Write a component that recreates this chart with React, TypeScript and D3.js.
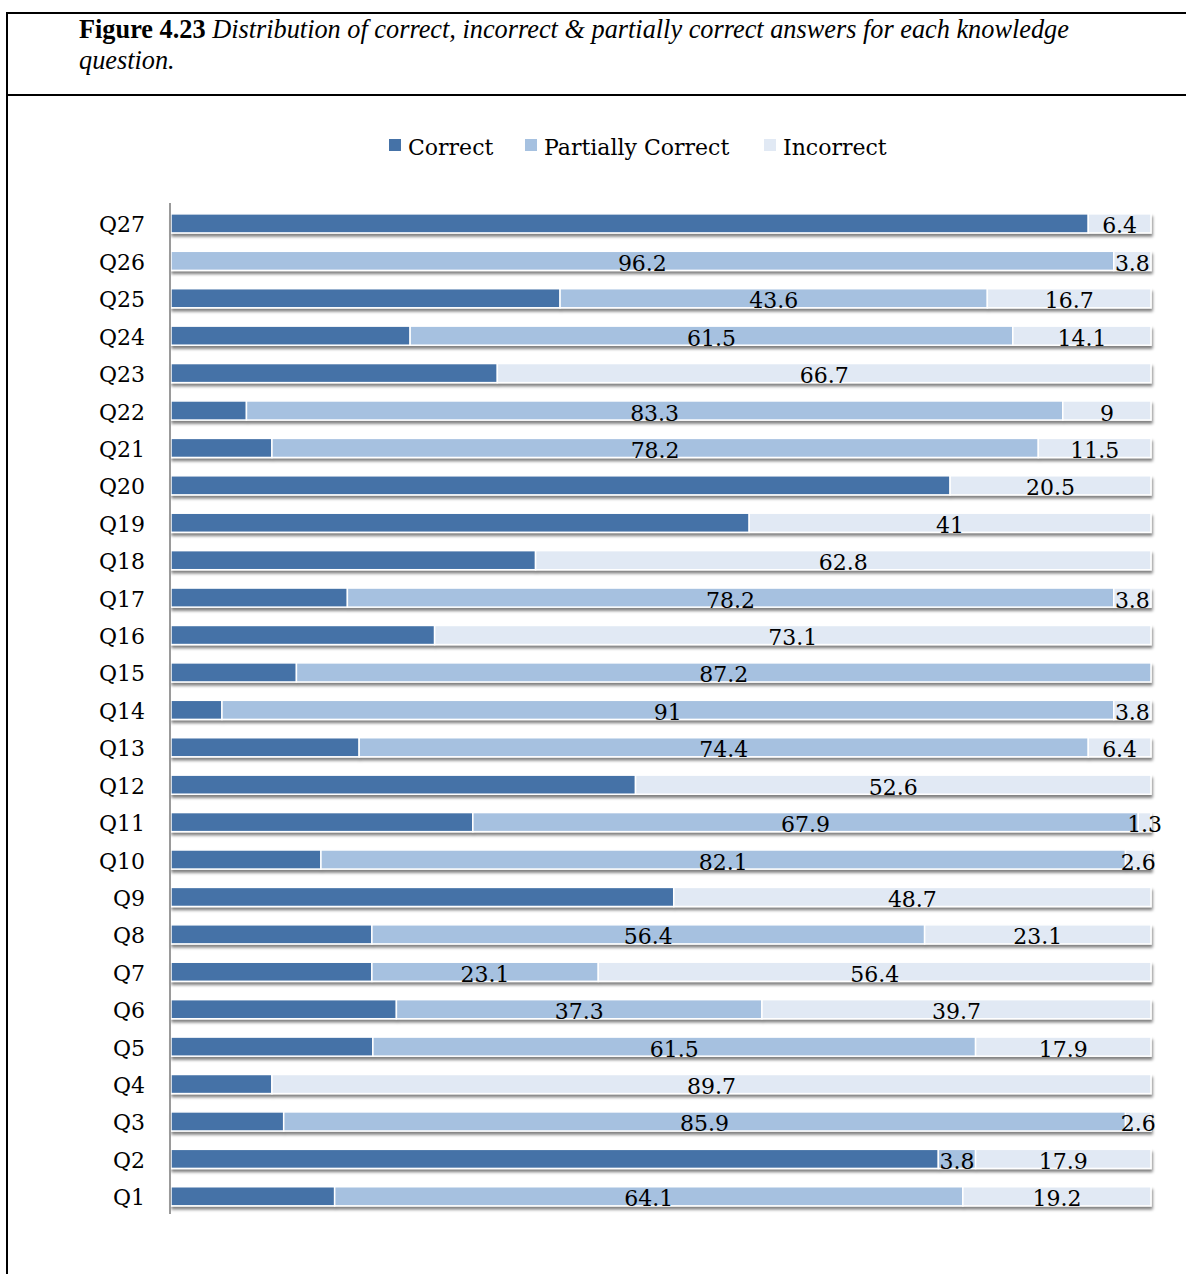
import React from "react";
import * as d3 from "d3";

// Knowledge questions, top to bottom as drawn
const questions = [
  "Q27", "Q26", "Q25", "Q24", "Q23", "Q22", "Q21", "Q20", "Q19", "Q18",
  "Q17", "Q16", "Q15", "Q14", "Q13", "Q12", "Q11", "Q10", "Q9", "Q8",
  "Q7", "Q6", "Q5", "Q4", "Q3", "Q2", "Q1",
];
// Percentage of partially correct answers per question
const partiallyCorrect = [
  0, 96.2, 43.6, 61.5, 0, 83.3, 78.2, 0, 0, 0,
  78.2, 0, 87.2, 91, 74.4, 0, 67.9, 82.1, 0, 56.4,
  23.1, 37.3, 61.5, 0, 85.9, 3.8, 64.1,
];
// Percentage of incorrect answers per question
const incorrect = [
  6.4, 3.8, 16.7, 14.1, 66.7, 9, 11.5, 20.5, 41, 62.8,
  3.8, 73.1, 0, 3.8, 6.4, 52.6, 1.3, 2.6, 48.7, 23.1,
  56.4, 39.7, 17.9, 89.7, 2.6, 17.9, 19.2,
];
// Percentage of correct answers makes up the remainder of each bar
const correct = questions.map((_, i) => +(100 - partiallyCorrect[i] - incorrect[i]).toFixed(1));

const seriesNames = ["Correct", "Partially Correct", "Incorrect"];
const seriesColors = ["#4572A7", "#A6C1E0", "#E1E9F4"];

const W = 1186;
const H = 1274;
const captionFont = "'Liberation Serif', 'Times New Roman', serif";
const chartFont = "'DejaVu Serif', serif";

export default function App() {
  const x = d3.scaleLinear().domain([0, 100]).range([171, 1151]);
  const y = d3.scaleBand<string>().domain(questions).range([204.7, 1215]).paddingInner(0.49).paddingOuter(0.245);

  const rows = questions.map((q, i) => ({ q, values: [correct[i], partiallyCorrect[i], incorrect[i]] }));
  const stack = d3.stack<any>().keys([0, 1, 2] as any).value((d: any, k: any) => d.values[k]);
  const series = stack(rows as any);

  const legendX = [389, 525, 764];

  return (
    <svg width={W} height={H} style={{ position: "absolute", left: 0, top: 0, background: "#fff" }}>
      <defs>
        <filter id="barShadow" x="-2%" y="-40%" width="104%" height="200%">
          <feGaussianBlur in="SourceAlpha" stdDeviation="1.6" />
          <feOffset dx="1" dy="3" result="blurred" />
          <feComponentTransfer>
            <feFuncA type="linear" slope="0.5" />
          </feComponentTransfer>
          <feMerge>
            <feMergeNode />
            <feMergeNode in="SourceGraphic" />
          </feMerge>
        </filter>
      </defs>

      {/* caption frame */}
      <line x1={7} x2={W} y1={13} y2={13} stroke="#000" strokeWidth={2} />
      <line x1={7} x2={W} y1={95} y2={95} stroke="#000" strokeWidth={2} />
      <line x1={7} x2={7} y1={12} y2={H} stroke="#000" strokeWidth={2} />
      <text x={79} y={38} fontFamily={captionFont} fontSize={26.3} fill="#000">
        <tspan fontWeight="bold">Figure 4.23</tspan>
        <tspan fontStyle="italic"> Distribution of correct, incorrect &amp; partially correct answers for each knowledge</tspan>
      </text>
      <text x={79} y={69} fontFamily={captionFont} fontSize={26.3} fontStyle="italic" fill="#000">question.</text>

      {/* legend */}
      {seriesNames.map((name, i) => (
        <g key={name}>
          <rect x={legendX[i]} y={139} width={12} height={12} fill={seriesColors[i]} />
          <text x={legendX[i] + 19} y={155} fontFamily={chartFont} fontSize={22} fill="#000">{name}</text>
        </g>
      ))}

      {/* bars */}
      {rows.map((r, i) => (
        <g key={r.q} filter="url(#barShadow)">
          {series.map((s, k) => {
            const seg = s[i];
            const w = x(seg[1]) - x(seg[0]);
            if (w <= 0) return null;
            return (
              <rect key={k} x={x(seg[0])} y={y(r.q)!} width={w} height={y.bandwidth()}
                fill={seriesColors[k]} stroke="#fff" strokeWidth={1.5} />
            );
          })}
        </g>
      ))}

      {/* value labels for partially correct and incorrect */}
      {rows.map((r, i) =>
        series.slice(1).map((s, k) => {
          const seg = s[i];
          const v = r.values[k + 1];
          if (!v) return null;
          return (
            <text key={r.q + k} x={(x(seg[0]) + x(seg[1])) / 2} y={y(r.q)! + y.bandwidth() / 2 + 10}
              textAnchor="middle" fontFamily={chartFont} fontSize={22} fill="#000">{v}</text>
          );
        })
      )}

      {/* category axis */}
      <line x1={170} x2={170} y1={203} y2={1214} stroke="#9a9a9a" strokeWidth={2} />
      {questions.map((q) => (
        <text key={q} x={145} y={y(q)! + y.bandwidth() / 2 + 9} textAnchor="end"
          fontFamily={chartFont} fontSize={22} fill="#000">{q}</text>
      ))}
    </svg>
  );
}
